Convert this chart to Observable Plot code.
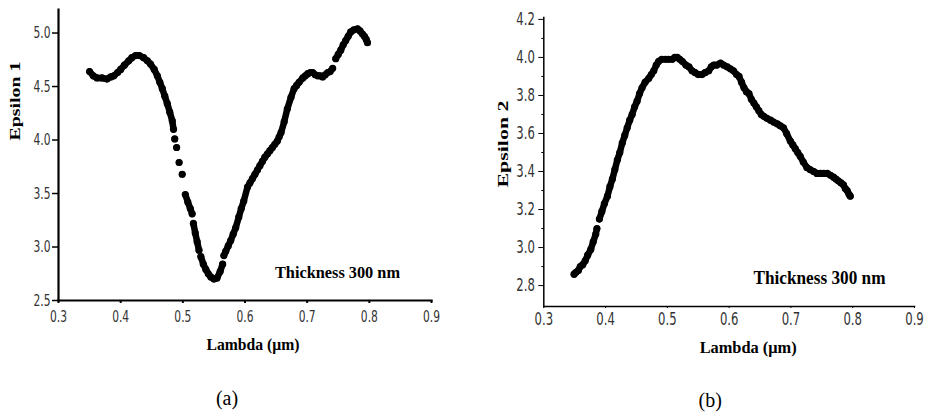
<!DOCTYPE html>
<html>
<head>
<meta charset="utf-8">
<script src="https://cdn.jsdelivr.net/npm/d3@7"></script>
<script src="https://cdn.jsdelivr.net/npm/@observablehq/plot@0.6"></script>
<style>
  html, body { margin: 0; padding: 0; background: #fff; }
  #wrap { position: relative; width: 925px; height: 417px; overflow: hidden; background: #fff; }
  #left, #right { position: absolute; top: 0; }
  #left { left: 0; }
  #right { left: 460px; }
</style>
</head>
<body>
<div id="wrap"><div id="left"></div><div id="right"></div></div>
<script>
// ---------- data (null = visible gap in the plotted trace) ----------
const lambda1 = [
  0.350,0.356,0.362,0.370,0.378,0.384,0.389,0.395,0.400,0.406,0.413,0.418,0.424,0.430,0.437,0.443,0.448,0.454,0.459,0.463,0.467,0.471,0.475,0.479,0.483,0.485,
  null,0.487,null,0.490,null,0.494,null,0.499,null,
  0.504,0.508,0.512,0.515,null,
  0.517,0.520,0.523,0.526,null,
  0.529,0.533,0.537,0.541,0.545,0.550,0.555,0.560,0.564,null,
  0.566,0.569,0.573,0.577,0.581,0.585,0.590,0.594,0.598,0.604,0.608,0.612,0.616,0.620,0.624,0.628,0.632,0.636,0.640,0.644,0.648,0.652,0.655,0.658,0.663,0.668,0.674,0.679,0.683,0.687,0.693,0.697,0.701,0.705,0.709,0.713,0.717,0.721,0.725,0.729,0.733,0.737,0.741,null,
  0.746,0.750,0.754,0.758,0.762,0.766,0.770,0.775,0.781,0.785,0.789,0.792,0.795,0.797
];
const epsilon1 = [
  4.64,4.60,4.58,4.58,4.57,4.59,4.60,4.63,4.66,4.70,4.74,4.77,4.79,4.79,4.77,4.74,4.71,4.66,4.60,4.54,4.48,4.41,4.34,4.26,4.18,4.10,
  null,4.01,null,3.93,null,3.79,null,3.68,null,
  3.49,3.42,3.36,3.31,null,
  3.22,3.13,3.05,2.97,null,
  2.91,2.84,2.79,2.75,2.72,2.70,2.71,2.77,2.84,null,
  2.92,2.96,3.01,3.06,3.12,3.18,3.28,3.36,3.43,3.56,3.60,3.64,3.68,3.72,3.76,3.80,3.84,3.87,3.90,3.93,3.96,3.99,4.03,4.07,4.17,4.29,4.40,4.48,4.51,4.54,4.58,4.60,4.62,4.63,4.63,4.61,4.60,4.60,4.59,4.61,4.63,4.64,4.67,null,
  4.76,4.80,4.84,4.89,4.93,4.97,5.01,5.03,5.04,5.02,4.99,4.97,4.94,4.91
];
const lambda2 = [
  0.349,0.352,0.356,0.359,0.363,0.367,0.371,0.376,0.380,0.384,0.386,null,
  0.390,0.394,0.398,0.403,0.407,0.411,0.415,0.419,0.423,0.427,0.431,0.435,0.439,0.443,0.447,0.451,0.455,0.459,0.464,0.470,0.474,0.478,0.482,0.486,0.491,0.497,0.502,0.508,0.512,0.516,0.520,0.524,0.530,0.535,0.540,0.545,0.550,0.556,0.561,0.567,0.571,0.575,0.580,0.586,0.591,0.597,0.602,0.607,0.612,0.616,0.620,0.624,0.628,0.632,0.636,0.640,0.644,0.648,0.652,0.656,0.661,0.667,0.672,0.678,0.683,0.688,0.693,0.699,0.703,0.707,0.711,0.715,0.720,0.726,0.731,0.737,0.742,0.748,0.753,0.759,0.764,0.769,0.773,0.777,0.781,0.785,0.788,0.791,0.794,0.796
];
const epsilon2 = [
  2.86,2.87,2.88,2.90,2.91,2.93,2.96,2.99,3.03,3.07,3.10,null,
  3.15,3.19,3.23,3.27,3.32,3.36,3.41,3.46,3.50,3.55,3.59,3.63,3.67,3.70,3.74,3.77,3.81,3.84,3.87,3.89,3.91,3.93,3.96,3.98,3.99,3.99,3.99,3.99,4.00,4.00,3.99,3.98,3.96,3.95,3.93,3.92,3.91,3.91,3.92,3.93,3.95,3.96,3.96,3.97,3.96,3.95,3.94,3.93,3.91,3.90,3.87,3.84,3.82,3.81,3.78,3.76,3.74,3.72,3.70,3.69,3.68,3.67,3.66,3.65,3.64,3.63,3.60,3.56,3.54,3.52,3.50,3.48,3.45,3.42,3.41,3.40,3.39,3.39,3.39,3.39,3.38,3.37,3.36,3.35,3.34,3.33,3.31,3.30,3.28,3.27
];
const xTicks = [0.3, 0.4, 0.5, 0.6, 0.7, 0.8, 0.9];
const y1Ticks = [2.5, 3.0, 3.5, 4.0, 4.5, 5.0];
const y2Ticks = [2.8, 3.0, 3.2, 3.4, 3.6, 3.8, 4.0, 4.2];
const y2Minor = [2.9, 3.1, 3.3, 3.5, 3.7, 3.9, 4.1];
const xLabel = "Lambda (\u03bcm)";
const y1Label = "Epsilon 1";
const y2Label = "Epsilon 2";
const note = "Thickness 300 nm";
const panelA = "(a)";
const panelB = "(b)";

const rows1 = lambda1.map((x, i) => ({x, y: epsilon1[i]}));
const rows2 = lambda2.map((x, i) => ({x, y: epsilon2[i]}));

// pick the first installed font from a list (canvas width test)
function pickFont(list, generic) {
  const c = document.createElement("canvas").getContext("2d");
  const sample = "Thickness 300 nm Epsilon 0.123456789";
  const base = {};
  for (const g of ["monospace", "serif", "sans-serif"]) {
    c.font = `40px ${g}`;
    base[g] = c.measureText(sample).width;
  }
  for (const f of list) {
    let differs = false;
    for (const g of ["monospace", "serif", "sans-serif"]) {
      c.font = `40px '${f}', ${g}`;
      if (Math.abs(c.measureText(sample).width - base[g]) > 0.5) differs = true;
    }
    if (differs) return `'${f}', ${generic}`;
  }
  return generic;
}
const serif = pickFont(["Liberation Serif", "Times New Roman", "DejaVu Serif", "Noto Serif", "Tinos"], "serif");
const tickFont = pickFont(["Liberation Sans Narrow", "Arial Narrow", "DejaVu Sans Condensed", "Liberation Sans", "Arial", "DejaVu Sans"], "sans-serif");

function fit(svg, map, tickLen, tickSize) {
  d3.select(svg).selectAll("text").each(function () {
    const t = this.textContent;
    const s = d3.select(this);
    if (map[t] !== undefined) {
      s.attr("textLength", map[t]).attr("lengthAdjust", "spacingAndGlyphs");
    } else if (/^\d\.\d$/.test(t)) {
      s.style("font-family", tickFont).style("font-size", tickSize + "px").style("fill", "#333")
        .attr("textLength", tickLen).attr("lengthAdjust", "spacingAndGlyphs");
    }
  });
}

// ---------- left panel ----------
const left = Plot.plot({
  width: 462, height: 417,
  marginLeft: 58, marginRight: 31, marginTop: 9, marginBottom: 117,
  style: {background: "transparent", overflow: "visible", color: "#000"},
  x: {domain: [0.3, 0.9]},
  y: {domain: [2.5, 5.22]},
  marks: [
    Plot.axisX({ticks: xTicks, tickFormat: d3.format(".1f"), tickSize: 3, tickPadding: 7, label: null,
      fontFamily: tickFont, fontSize: 16, fill: "#333", stroke: "#000", strokeWidth: 2}),
    Plot.axisY({ticks: y1Ticks, tickFormat: d3.format(".1f"), tickSize: 6, tickPadding: 2, label: null,
      fontFamily: tickFont, fontSize: 16, fill: "#333", stroke: "#000", strokeWidth: 1.5}),
    Plot.frame({anchor: "left", stroke: "#000", strokeWidth: 2.2}),
    Plot.frame({anchor: "bottom", stroke: "#000", strokeWidth: 2.2}),
    Plot.line(rows1, {x: "x", y: "y", stroke: "#000", strokeWidth: 6.5, strokeLinecap: "round", strokeLinejoin: "round"}),
    Plot.dot(rows1, {x: "x", y: "y", r: 3.6, fill: "#000", stroke: null}),
    Plot.text([y1Label], {frameAnchor: "left", textAnchor: "middle", rotate: -90, dx: -43, dy: -54, fontFamily: serif, fontWeight: "bold", fontSize: 15, fill: "#000"}),
    Plot.text([xLabel], {frameAnchor: "bottom", textAnchor: "middle", dx: 8, dy: 49, fontFamily: serif, fontWeight: "bold", fontSize: 16, fill: "#000"}),
    Plot.text([note], {frameAnchor: "bottom-right", textAnchor: "middle", dx: -94, dy: -23, fontFamily: serif, fontWeight: "bold", fontSize: 17, fill: "#000"}),
    Plot.text([panelA], {frameAnchor: "bottom", textAnchor: "middle", dx: -18, dy: 104, fontFamily: serif, fontSize: 20, fill: "#000"})
  ]
});
fit(left, {[y1Label]: 79, [xLabel]: 93, [note]: 125}, 17, 16);
document.getElementById("left").appendChild(left);

// ---------- right panel ----------
const right = Plot.plot({
  width: 465, height: 417,
  marginLeft: 83.3, marginRight: 11, marginTop: 17, marginBottom: 111,
  style: {background: "transparent", overflow: "visible", color: "#000"},
  x: {domain: [0.3, 0.9]},
  y: {domain: [2.69, 4.21]},
  marks: [
    Plot.axisX({ticks: xTicks, tickFormat: d3.format(".1f"), tickSize: 2, tickPadding: 4, label: null,
      fontFamily: tickFont, fontSize: 17, fill: "#333", stroke: "#000"}),
    Plot.axisY({ticks: y2Ticks, tickFormat: d3.format(".1f"), tickSize: 5, tickPadding: 4, label: null,
      fontFamily: tickFont, fontSize: 17, fill: "#333", stroke: "#000"}),
    Plot.axisY({ticks: y2Minor, tickSize: 2, text: null, label: null, stroke: "#000"}),
    Plot.frame({anchor: "left", stroke: "#000", strokeWidth: 1.5}),
    Plot.frame({anchor: "bottom", stroke: "#000", strokeWidth: 1.5}),
    Plot.line(rows2, {x: "x", y: "y", stroke: "#000", strokeWidth: 6.5, strokeLinecap: "round", strokeLinejoin: "round"}),
    Plot.dot(rows2, {x: "x", y: "y", r: 3.6, fill: "#000", stroke: null}),
    Plot.text([y2Label], {frameAnchor: "left", textAnchor: "middle", rotate: -90, dx: -41, dy: -18, fontFamily: serif, fontWeight: "bold", fontSize: 15, fill: "#000"}),
    Plot.text([xLabel], {frameAnchor: "bottom", textAnchor: "middle", dx: 19, dy: 46, fontFamily: serif, fontWeight: "bold", fontSize: 17, fill: "#000"}),
    Plot.text([note], {frameAnchor: "bottom-right", textAnchor: "middle", dx: -95, dy: -23, fontFamily: serif, fontWeight: "bold", fontSize: 18, fill: "#000"}),
    Plot.text([panelB], {frameAnchor: "bottom", textAnchor: "middle", dx: -19, dy: 100, fontFamily: serif, fontSize: 20, fill: "#000"})
  ]
});
fit(right, {[y2Label]: 87, [xLabel]: 97, [note]: 132}, 18.5, 17);
document.getElementById("right").appendChild(right);
</script>
</body>
</html>
